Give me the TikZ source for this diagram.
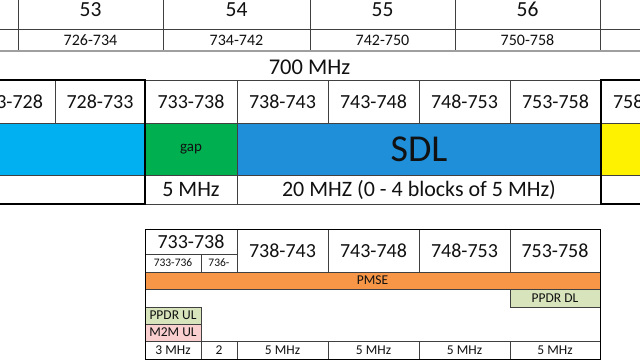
\documentclass[tikz,border=0pt]{standalone}
\usepackage{fontspec}
\setmainfont{Carlito}
\definecolor{lblue}{HTML}{00B0F0}
\definecolor{gapgreen}{HTML}{00B050}
\definecolor{sdlblue}{HTML}{1F8FDA}
\definecolor{pmse}{HTML}{F79646}
\definecolor{ppdr}{HTML}{D8E4BC}
\definecolor{mtm}{HTML}{F9CFCF}
\definecolor{grid}{HTML}{404040}
\definecolor{ink}{HTML}{111111}
\newcommand\cell[7][]{%
  \node[cellbase,#1,minimum width={(#5-(#3))*1pt},minimum height={(#6-(#4))*1pt}]
    (#2) at ({(#3+#5)/2},{(#4+#6)/2}) {#7};}
\tikzset{
  cellbase/.style={draw=grid,line width=0.7pt,inner sep=0pt,outer sep=0pt,text=ink,font=\fontsize{20}{22}\selectfont},
  thick box/.style={draw=black,line width=1.2pt},
  chan/.style={font=\fontsize{21.5}{23}\selectfont},
  freq/.style={font=\fontsize{16}{18}\selectfont},
  wide/.style={font=\fontsize{22}{24}\selectfont},
  small/.style={font=\fontsize{13.5}{15}\selectfont},
  tiny/.style={font=\fontsize{11.5}{13}\selectfont},
}
\begin{document}
\begin{tikzpicture}[x=1pt,y=-1pt]
\useasboundingbox (0,0) rectangle (640,360);
\fill[white] (0,0) rectangle (640,360);
\clip (0,0) rectangle (640,360);
% top channel table
\cell[chan]{c52}{-127}{-10}{18}{29}{}
\cell[chan]{c53}{18}{-10}{163}{29}{53}
\cell[chan]{c54}{163}{-10}{310}{29}{54}
\cell[chan]{c55}{310}{-10}{455}{29}{55}
\cell[chan]{c56}{455}{-10}{600}{29}{56}
\cell[chan]{c57}{600}{-10}{745}{29}{}
\cell[freq]{f52}{-127}{29}{18}{51}{}
\cell[freq]{f53}{18}{29}{163}{51}{726-734}
\cell[freq]{f54}{163}{29}{310}{51}{734-742}
\cell[freq]{f55}{310}{29}{455}{51}{742-750}
\cell[freq]{f56}{455}{29}{600}{51}{750-758}
\cell[freq]{f57}{600}{29}{745}{51}{}
\draw[gray!75,line width=2.2pt] (f52.south west) -- (f57.south east);
% 700 MHz title
\node[text=ink,font=\fontsize{22.5}{24}\selectfont] (title) at (309.5,67) {700 MHz};
% block ranges
\cell{r0}{-36}{80}{55}{123}{723-728}
\cell{r1}{55}{80}{145}{123}{728-733}
\cell{r2}{145}{80}{237}{123}{733-738}
\cell{r3}{237}{80}{328}{123}{738-743}
\cell{r4}{328}{80}{419}{123}{743-748}
\cell{r5}{419}{80}{510}{123}{748-753}
\cell{r6}{510}{80}{601}{123}{753-758}
\cell{r7}{601}{80}{692}{123}{758-763}
% colour row
\cell[fill=lblue]{bl}{-36}{123}{145}{175}{}
\cell[fill=gapgreen,font=\fontsize{15}{17}\selectfont]{gap}{145}{123}{237}{175}{gap}
\cell[fill=sdlblue,font=\fontsize{38}{40}\selectfont]{sdl}{237}{123}{601}{175}{SDL}
\cell[fill=yellow]{yel}{601}{123}{700}{175}{}
% width row
\cell{w0}{-36}{175}{145}{204}{}
\cell[wide]{w1}{145}{175}{237}{204}{5 MHz}
\cell[wide]{w2}{237}{175}{601}{204}{20 MHZ (0 - 4 blocks of 5 MHz)}
\cell{w3}{601}{175}{700}{204}{}
% thick outlines
\draw[thick box] (r0.north west) -- (r1.north east) -- (w1.south west) -- (w0.south west);
\draw[thick box] (r7.north east) -- (r7.north west) -- (w3.south west) -- (w3.south east);
% lower detail table
\cell{d1}{145}{229}{237}{254}{733-738}
\cell[tiny]{d1a}{145}{254}{201}{272}{733-736}
\cell[tiny]{d1b}{201}{254}{237}{272}{736-}
\cell{d2}{237}{229}{328}{272}{738-743}
\cell{d3}{328}{229}{419}{272}{743-748}
\cell{d4}{419}{229}{510}{272}{748-753}
\cell{d5}{510}{229}{600}{272}{753-758}
\cell[fill=pmse,small]{pm}{145}{272}{600}{289}{PMSE}
\cell[fill=ppdr,small]{pdl}{510}{289}{600}{307}{PPDR DL}
\cell[fill=ppdr,small]{pul}{145}{307}{201}{324}{PPDR UL}
\cell[fill=mtm,small]{m2m}{145}{324}{201}{341}{M2M UL}
\cell[small]{b1}{145}{341}{201}{359}{3 MHz}
\cell[small]{b2}{201}{341}{237}{359}{2}
\cell[small]{b3}{237}{341}{328}{359}{5 MHz}
\cell[small]{b4}{328}{341}{419}{359}{5 MHz}
\cell[small]{b5}{419}{341}{510}{359}{5 MHz}
\cell[small]{b6}{510}{341}{600}{359}{5 MHz}
\draw[draw=black,line width=1pt] (d1.north west) rectangle (b6.south east);
\end{tikzpicture}
\end{document}
